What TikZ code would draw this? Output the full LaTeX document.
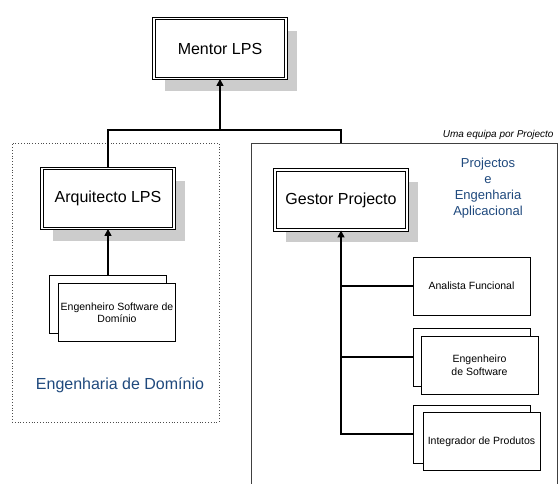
\documentclass[tikz,border=0pt]{standalone}
\usepackage{fontspec}
\setmainfont{Liberation Sans}
\usetikzlibrary{arrows.meta,shadows}
\definecolor{teamblue}{RGB}{31,73,125}

\begin{document}
\begin{tikzpicture}[x=1pt, y=-1pt,
  lead/.style={draw, double, double distance=1.5pt, line width=0.9pt, fill=white,
    minimum width=132pt, minimum height=60pt, inner sep=0pt,
    font=\fontsize{16}{19}\selectfont,
    drop shadow={shadow xshift=11pt, shadow yshift=-12pt, fill=black!20, opacity=1}},
  role/.style={draw, fill=white, line width=0.8pt, align=center, minimum width=117pt,
    minimum height=58pt, inner sep=1pt, font=\fontsize{10.5}{12.5}\selectfont},
  area/.style={text=teamblue, align=center},
  arr/.style={-{Triangle[length=7pt,width=7pt]}, line width=1.4pt},
  link/.style={line width=1.4pt}
]
\useasboundingbox (0,0) rectangle (559,483);
% team and domain frames
\node[draw=black!75, line width=1pt, minimum width=306pt, minimum height=352pt, inner sep=0pt] (team) at (404,319) {};
\node[draw=black!70, dotted, line width=0.8pt, minimum width=207pt, minimum height=279pt, inner sep=0pt] (domain) at (115.5,282.5) {};
\node[anchor=east, font=\itshape\fontsize{10}{12}\selectfont] (teamnote) at (557,135) {Uma equipa por Projecto};
\node[area, font=\fontsize{13}{16}\selectfont] (apparea) at (488,188) {Projectos\\e\\Engenharia\\Aplicacional};
\node[area, font=\fontsize{16}{19}\selectfont] (domarea) at (120,385) {Engenharia de Domínio};

% leaders
\node[lead] (mentor) at (220,48.5) {Mentor LPS};
\node[lead] (arquitecto) at (108,198.5) {Arquitecto LPS};
\node[lead] (gestor) at (341,200) {Gestor Projecto};

% roles
\node[role] (esdback) at (108,304) {};
\node[role] (esd) at (117,312.5) {Engenheiro Software de\\Domínio};
\node[role] (analista) at (471.5,286) {Analista Funcional};
\node[role] (engback) at (471.5,357) {};
\node[role] (engsw) at (479.5,365) {Engenheiro\\de Software};
\node[role] (intback) at (471.5,434) {};
\node[role] (integrador) at (481.5,441.5) {Integrador de Produtos};

% connectors
\coordinate (hub) at (220,130);
\draw[link] (arquitecto.north) |- (hub) -| (gestor.north |- team.north);
\draw[arr] (hub) -- (mentor.south);
\draw[arr] (esdback.north) -- (arquitecto.south);
\draw[arr] (intback.west) -| (gestor.south);
\draw[link] (analista.west) -- (analista.west -| gestor.south);
\draw[link] (engback.west) -- (engback.west -| gestor.south);
\end{tikzpicture}
\end{document}
